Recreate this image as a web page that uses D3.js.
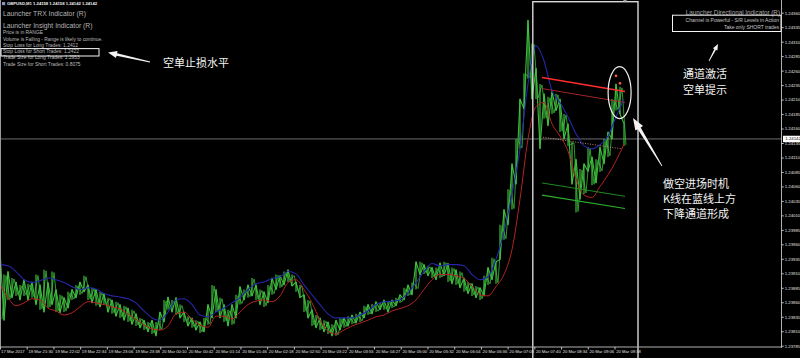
<!DOCTYPE html>
<html><head><meta charset="utf-8">
<script src="https://cdn.jsdelivr.net/npm/d3@7"></script>
<style>
html,body{margin:0;padding:0;background:#000;overflow:hidden}
svg{display:block}
</style></head><body>
<svg id="c" width="800" height="358"></svg>
<script>
// ---------------- data ----------------
const symbolLine = "GBPUSD,M1  1.24158 1.24158 1.24142 1.24142";
const currentPrice = 1.24142;

const barHigh = [1.23951,1.23908,1.23913,1.23902,1.23895,1.23890,1.23899,1.23892,1.23895,1.23908,
1.23890,1.23916,1.23894,1.23913,1.23882,1.23873,1.23868,1.23878,1.23882,1.23890,
1.23895,1.23906,1.23890,1.23885,1.23882,1.23878,1.23875,1.23868,1.23864,1.23861,
1.23856,1.23854,1.23850,1.23847,1.23840,1.23833,1.23829,1.23826,1.23829,1.23826,
1.23843,1.23864,1.23869,1.23864,1.23868,1.23856,1.23843,1.23836,1.23833,1.23829,
1.23826,1.23833,1.23856,1.23890,1.23882,1.23868,1.23856,1.23847,1.23856,1.23873,
1.23887,1.23882,1.23890,1.23902,1.23890,1.23882,1.23878,1.23890,1.23902,1.23908,
1.23906,1.23913,1.23916,1.23908,1.23895,1.23890,1.23873,1.23864,1.23847,1.23838,
1.23833,1.23829,1.23826,1.23822,1.23829,1.23833,1.23833,1.23836,1.23838,1.23840,
1.23843,1.23854,1.23856,1.23857,1.23861,1.23859,1.23864,1.23862,1.23864,1.23868,
1.23873,1.23885,1.23890,1.23894,1.23930,1.23930,1.23925,1.23923,1.23920,1.23920,
1.23928,1.23930,1.23927,1.23920,1.23916,1.23913,1.23902,1.23895,1.23892,1.23888,
1.23885,1.23906,1.23920,1.23937,1.23930,1.23994,1.24020,1.24055,1.24099,1.24142,
1.24211,1.24255,1.24347,1.24307,1.24264,1.24237,1.24220,1.24215,1.24224,1.24220,
1.24211,1.24185,1.24168,1.24137,1.24107,1.24090,1.24099,1.24128,1.24111,1.24107,
1.24128,1.24142,1.24154,1.24211,1.24237,1.24232,1.24168];

const barLow = [1.23829,1.23829,1.23864,1.23868,1.23871,1.23864,1.23871,1.23864,1.23868,1.23856,
1.23847,1.23843,1.23850,1.23856,1.23843,1.23842,1.23843,1.23850,1.23864,1.23868,
1.23873,1.23878,1.23864,1.23859,1.23854,1.23852,1.23856,1.23843,1.23840,1.23836,
1.23833,1.23829,1.23826,1.23822,1.23819,1.23816,1.23812,1.23809,1.23805,1.23802,
1.23812,1.23826,1.23847,1.23843,1.23838,1.23833,1.23826,1.23819,1.23816,1.23812,
1.23807,1.23809,1.23821,1.23833,1.23843,1.23833,1.23826,1.23819,1.23821,1.23833,
1.23856,1.23864,1.23868,1.23871,1.23864,1.23856,1.23852,1.23859,1.23873,1.23882,
1.23885,1.23890,1.23895,1.23888,1.23878,1.23868,1.23843,1.23833,1.23819,1.23816,
1.23812,1.23809,1.23805,1.23802,1.23802,1.23812,1.23816,1.23819,1.23822,1.23824,
1.23826,1.23833,1.23838,1.23840,1.23843,1.23847,1.23847,1.23843,1.23850,1.23854,
1.23859,1.23864,1.23871,1.23873,1.23882,1.23908,1.23909,1.23906,1.23902,1.23899,
1.23902,1.23906,1.23895,1.23892,1.23890,1.23885,1.23878,1.23875,1.23871,1.23868,
1.23864,1.23871,1.23890,1.23899,1.23892,1.23934,1.23968,1.23994,1.24020,1.24064,
1.24125,1.24194,1.24246,1.24211,1.24211,1.24125,1.24177,1.24165,1.24185,1.24191,
1.24154,1.24142,1.24130,1.24064,1.24015,1.24038,1.24047,1.24086,1.24062,1.24066,
1.24085,1.24099,1.24111,1.24142,1.24191,1.24185,1.24130];

// moving averages, one value every second bar
const maBlue = [1.23925,1.23923,1.23913,1.23899,1.23894,1.23897,1.23902,1.23899,1.23894,1.23887,
1.23882,1.23885,1.23883,1.23875,1.23871,1.23869,1.23866,1.23859,1.23845,1.23833,
1.23829,1.23843,1.23864,1.23866,1.23856,1.23838,1.23835,1.23843,1.23850,1.23859,
1.23868,1.23882,1.23892,1.23895,1.23901,1.23904,1.23913,1.23909,1.23890,1.23873,
1.23856,1.23840,1.23833,1.23833,1.23833,1.23838,1.23845,1.23856,1.23861,1.23862,
1.23864,1.23876,1.23894,1.23913,1.23927,1.23923,1.23925,1.23925,1.23923,1.23908,
1.23899,1.23904,1.23934,1.23982,1.24047,1.24125,1.24237,1.24303,1.24277,1.24225,
1.24205,1.24180,1.24151,1.24130,1.24125,1.24132,1.24147,1.24180,1.24211];

const maRed = [1.23890,1.23868,1.23854,1.23859,1.23866,1.23864,1.23850,1.23845,1.23838,1.23842,
1.23852,1.23861,1.23859,1.23856,1.23852,1.23849,1.23840,1.23831,1.23821,1.23814,
1.23812,1.23819,1.23840,1.23843,1.23831,1.23821,1.23817,1.23836,1.23836,1.23831,
1.23843,1.23856,1.23862,1.23864,1.23861,1.23871,1.23894,1.23899,1.23882,1.23859,
1.23829,1.23810,1.23805,1.23812,1.23819,1.23824,1.23829,1.23835,1.23838,1.23845,
1.23849,1.23854,1.23864,1.23882,1.23899,1.23908,1.23908,1.23906,1.23901,1.23888,
1.23873,1.23871,1.23887,1.23908,1.23951,1.24038,1.24142,1.24198,1.24205,1.24168,
1.24147,1.24121,1.24073,1.24045,1.24041,1.24060,1.24080,1.24104,1.24133];

const timeLabels = ["17 Mar 2017","19 Mar 21:30","19 Mar 22:02","19 Mar 22:34","19 Mar 23:06","19 Mar 23:38",
"20 Mar 00:10","20 Mar 00:42","20 Mar 01:14","20 Mar 01:46","20 Mar 02:18","20 Mar 02:50","20 Mar 03:22",
"20 Mar 03:55","20 Mar 04:27","20 Mar 05:00","20 Mar 05:32","20 Mar 06:04","20 Mar 06:36","20 Mar 07:08",
"20 Mar 07:40","20 Mar 08:34","20 Mar 09:06","20 Mar 09:38"];

const priceTicks = [1.23785,1.23810,1.23835,1.23860,1.23885,1.23910,1.23935,1.23960,1.23985,1.24010,
1.24035,1.24060,1.24085,1.24110,1.24135,1.24160,1.24185,1.24210,1.24235,1.24260,1.24285,1.24310,1.24335,1.24360];

// trend/channel lines: [bar, price] anchors
const redUpperLine = [[135.5,1.24248],[156.25,1.24224]];
const redLowerLine = [[135.5,1.24229],[156.25,1.24205]];
const midDottedLine = [[135.75,1.24145],[155.4,1.24125]];
const greenUpperLine = [[135.5,1.24066],[156.25,1.24043]];
const greenLowerLine = [[135.5,1.24045],[156.25,1.24022]];
const signalDots = [[154,1.24251],[155,1.24238]];
// annotation shapes anchored in bar/price
const boxBars = [133.2,159.5];
const boxPrices = [1.24379,1.23760];
const ellipseAnchor = [154.9,1.24222];

const leftPanel = ["Price is in RANGE","Volume is Falling - Range is likely to continue.",
"Stop Loss for Long Trades: 1.2412","Stop Loss for Short Trades: 1.2422",
"Trade Size for Long Trades: 1.2953","Trade Size for Short Trades: 0.8075"];

// ---------------- drawing ----------------
const svg = d3.select("#c");
svg.append("rect").attr("width",800).attr("height",358).attr("fill","#000");
const plotR = 781.5, plotB = 347;
const x = d3.scaleLinear().domain([0, barHigh.length-1]).range([0, 624]);
const xMA = d3.scaleLinear().domain([0, maBlue.length-1]).range([0, 624]);
const y = d3.scaleLinear().domain([1.23785, 1.24360]).range([345.7, 12.7]);
const xt = d3.scalePoint().domain(timeLabels).range([0, 614.5]);

svg.append("defs").append("clipPath").attr("id","plot")
  .append("rect").attr("x",0).attr("y",0).attr("width",plotR).attr("height",plotB);
const g = svg.append("g").attr("clip-path","url(#plot)");

const FONT = "'Liberation Sans', Arial, sans-serif";
const CJK = "'Noto Sans CJK SC', sans-serif";

// current price line
g.append("line").attr("x1",0).attr("x2",plotR)
  .attr("y1",y(currentPrice)).attr("y2",y(currentPrice))
  .attr("stroke","#8a8a8a").attr("stroke-width",0.8);

// price bars: high-low strokes plus a trace that swings between them
const bars = barHigh.map((h,i)=>({i, h, l: barLow[i]}));
g.append("path").datum(bars)
  .attr("d", d3.line().x(d=>x(d.i)).y(d=>d.i%2===0 ? y(d.h) : y(d.l)))
  .attr("fill","none").attr("stroke","#3cbc3c").attr("stroke-width",1.1).attr("stroke-linejoin","round");
g.append("path").datum(bars)
  .attr("d", d3.line().x(d=>x(d.i)+2).y(d=>d.i%2===0 ? y(d.l)-1 : y(d.h)+1))
  .attr("fill","none").attr("stroke","#34a834").attr("stroke-width",0.9).attr("stroke-linejoin","round");
g.selectAll("line.bar").data(bars).join("line").attr("class","bar")
  .attr("x1",d=>x(d.i)).attr("x2",d=>x(d.i))
  .attr("y1",d=>y(d.h)).attr("y2",d=>y(d.l))
  .attr("stroke","#44c844").attr("stroke-width",1.1);

// moving averages
const maLine = d3.line().x((d,i)=>xMA(i)).y(d=>y(d)).curve(d3.curveMonotoneX);
g.append("path").datum(maBlue).attr("d",maLine).attr("fill","none")
  .attr("stroke","#2626a8").attr("stroke-width",1.1);
g.append("path").datum(maRed).attr("d",maLine).attr("fill","none")
  .attr("stroke","#b42222").attr("stroke-width",1);

// channel lines
const tl = d3.line().x(d=>x(d[0])).y(d=>y(d[1]));
g.append("path").attr("d",tl(redUpperLine)).attr("stroke","#ff2d2d").attr("stroke-width",1.4).attr("fill","none");
g.append("path").attr("d",tl(redLowerLine)).attr("stroke","#b02a2a").attr("stroke-width",0.9).attr("fill","none");
g.append("path").attr("d",tl(midDottedLine)).attr("stroke","#c89080").attr("stroke-width",0.9)
  .attr("stroke-dasharray","1,1.5").attr("fill","none");
g.append("path").attr("d",tl(greenUpperLine)).attr("stroke","#1f8a1f").attr("stroke-width",1).attr("fill","none");
g.append("path").attr("d",tl(greenLowerLine)).attr("stroke","#2fb02f").attr("stroke-width",1.1).attr("fill","none");
g.selectAll("circle.sig").data(signalDots).join("circle").attr("class","sig")
  .attr("cx",d=>x(d[0])).attr("cy",d=>y(d[1])).attr("r",1.3).attr("fill","#ff5a40");

// annotation rectangle & ellipse
svg.append("rect").attr("x",x(boxBars[0])).attr("y",y(boxPrices[0]))
  .attr("width",x(boxBars[1])-x(boxBars[0])).attr("height",y(boxPrices[1])-y(boxPrices[0]))
  .attr("fill","none").attr("stroke","#d8d8d8").attr("stroke-width",1.4);
svg.append("ellipse").attr("cx",x(ellipseAnchor[0])).attr("cy",y(ellipseAnchor[1]))
  .attr("rx",11.5).attr("ry",26).attr("fill","none").attr("stroke","#f0f0f0").attr("stroke-width",1.2);

// frame
svg.append("line").attr("x1",0.5).attr("x2",0.5).attr("y1",0).attr("y2",plotB).attr("stroke","#9a9a9a").attr("stroke-width",1);
svg.append("line").attr("x1",0).attr("x2",plotR).attr("y1",plotB).attr("y2",plotB).attr("stroke","#b0b0b0").attr("stroke-width",1);
svg.append("line").attr("x1",plotR).attr("x2",plotR).attr("y1",0).attr("y2",plotB+1).attr("stroke","#b0b0b0").attr("stroke-width",1);

// right axis
const ay = svg.append("g").attr("transform",`translate(${plotR},0)`)
  .call(d3.axisRight(y).tickValues(priceTicks).tickFormat(d3.format(".5f")).tickSize(2.2).tickPadding(1));
ay.select(".domain").remove();
ay.selectAll("line").attr("stroke","#c0c0c0");
ay.selectAll("text").attr("fill","#e0e0e0").style("font-family",FONT).style("font-size","4.3px");

// current price label
const cpg = svg.append("g").attr("transform",`translate(${plotR+1},${y(currentPrice)})`);
cpg.append("rect").attr("x",0.5).attr("y",-3.2).attr("width",17).attr("height",6.4).attr("fill","#ffffff");
cpg.append("text").attr("x",2.8).attr("y",0).attr("dominant-baseline","central")
  .style("font-family",FONT).style("font-size","4.3px").attr("fill","#000").text(d3.format(".5f")(currentPrice));

// bottom axis
const ax = svg.append("g").attr("transform",`translate(0,${plotB})`)
  .call(d3.axisBottom(xt).tickSize(2.5).tickPadding(1));
ax.select(".domain").remove();
ax.selectAll("line").attr("stroke","#c0c0c0");
ax.selectAll("text").attr("fill","#e0e0e0").attr("text-anchor","start").attr("dx",1.2)
  .style("font-family",FONT).style("font-size","4.2px");
ax.selectAll(".tick").filter((d,i)=>i===0).select("text").attr("dx",0.6);

// top-left texts
svg.append("rect").attr("x",2).attr("y",2).attr("width",3.2).attr("height",3.2).attr("fill","#9090c0");
svg.append("text").attr("x",7).attr("y",3.8).attr("dominant-baseline","central")
  .style("font-family",FONT).style("font-size","4.2px").style("font-weight","bold").attr("fill","#f0f0f0").text(symbolLine);
svg.append("text").attr("x",3).attr("y",13).attr("dominant-baseline","central")
  .style("font-family",FONT).style("font-size","6.8px").attr("fill","#b4b4b4").text("Launcher TRX Indicator (R)");
svg.append("text").attr("x",3).attr("y",25).attr("dominant-baseline","central")
  .style("font-family",FONT).style("font-size","6.8px").attr("fill","#b4b4b4").text("Launcher Insight Indicator (R)");
svg.selectAll("text.lp").data(leftPanel).join("text").attr("class","lp")
  .attr("x",3).attr("y",(d,i)=>32.7+i*6.3).attr("dominant-baseline","central")
  .style("font-family",FONT).style("font-size","4.9px").attr("fill","#bcbcbc").text(d=>d);
svg.append("rect").attr("x",1).attr("y",48.6).attr("width",98).attr("height",7.4)
  .attr("fill","none").attr("stroke","#f4f4f4").attr("stroke-width",1);

// top-right texts
svg.append("text").attr("x",780).attr("y",12.8).attr("text-anchor","end").attr("dominant-baseline","central")
  .style("font-family",FONT).style("font-size","6.3px").attr("fill","#a8a8a8").text("Launcher Directional Indicator (R)");
svg.append("rect").attr("x",672.5).attr("y",15.2).attr("width",108.5).attr("height",16.3)
  .attr("fill","none").attr("stroke","#f4f4f4").attr("stroke-width",1);
svg.append("text").attr("x",779).attr("y",20.2).attr("text-anchor","end").attr("dominant-baseline","central")
  .style("font-family",FONT).style("font-size","5px").attr("fill","#c4c4c4").text("Channel is Powerful - S/R Levels in Action");
svg.append("text").attr("x",779).attr("y",26.8).attr("text-anchor","end").attr("dominant-baseline","central")
  .style("font-family",FONT).style("font-size","5px").attr("fill","#c4c4c4").text("Take only SHORT trades");

// arrows
function arrow(x1,y1,x2,y2,wTail,wNeck,headLen,headW){
  const dx=x2-x1, dy=y2-y1, L=Math.hypot(dx,dy), ux=dx/L, uy=dy/L, px=-uy, py=ux;
  const nx=x2-ux*headLen, ny=y2-uy*headLen;
  const pts=[[x1+px*wTail/2,y1+py*wTail/2],[nx+px*wNeck/2,ny+py*wNeck/2],[nx+px*headW/2,ny+py*headW/2],[x2,y2],
    [nx-px*headW/2,ny-py*headW/2],[nx-px*wNeck/2,ny-py*wNeck/2],[x1-px*wTail/2,y1-py*wTail/2]];
  svg.append("polygon").attr("points",pts.map(p=>p.join(",")).join(" ")).attr("fill","#f4f4f4");
}
arrow(150,62,108,52.5,0.8,2.4,9,7);
arrow(662,166,633,118,0.8,3.4,12,9);
arrow(709,61,718,44,0.7,1.8,6,5);

// Chinese annotations
function cjk(t,xx,yy){
  svg.append("text").attr("x",xx).attr("y",yy).attr("dominant-baseline","central")
    .style("font-family",CJK).style("font-size","11px").attr("fill","#f4f4f4").text(t);
}
cjk("空单止损水平",163,62);
cjk("通道激活",683,73);
cjk("空单提示",683,88.5);
cjk("做空进场时机",663,182.5);
cjk("K线在蓝线上方",663,197.5);
cjk("下降通道形成",663,212.5);

// chart shift marker
svg.append("path").attr("d",`M${x(156.25)-2},0 L${x(156.25)+2},0 L${x(156.25)},2.5 Z`).attr("fill","#a0a0a0");
</script>
</body></html>
